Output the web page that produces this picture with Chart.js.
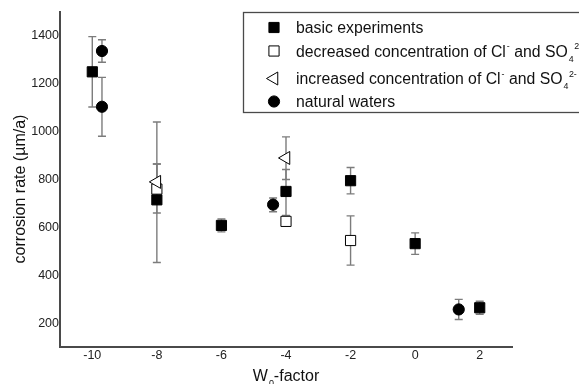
<!DOCTYPE html>
<html><head><meta charset="utf-8">
<script src="https://cdn.jsdelivr.net/npm/chart.js@4.4.1/dist/chart.umd.min.js"></script>
<style>html,body{margin:0;padding:0;background:#fff}#wrap{width:579px;height:384px;position:relative}</style>
</head><body><div id="wrap"><canvas id="c" width="579" height="384"></canvas></div>
<script>
// ---- data ----
const xTicks = [-10, -8, -6, -4, -2, 0, 2];
const yTicks = [200, 400, 600, 800, 1000, 1200, 1400];

const basicX = [-10, -8, -6, -4, -2, 0, 2];
const basicY = [1250, 715, 608, 750, 795, 532, 264];
const basicErrUp = [147, 150, 27, 92, 55, 45, 27];
const basicErrDown = [147, 262, 27, 100, 55, 45, 27];

const decreasedX = [-8, -4, -2];
const decreasedY = [760, 625, 545];
const decreasedErrUp = [105, 10, 103];
const decreasedErrDown = [100, 10, 103];

const increasedX = [-8, -4];
const increasedY = [790, 890];
const increasedErrUp = [250, 88];
const increasedErrDown = [20, 90];

const naturalX = [-9.7, -9.7, -4.4, 1.35];
const naturalY = [1337, 1104, 695, 257];
const naturalErrUp = [47, 123, 28, 42];
const naturalErrDown = [47, 123, 30, 42];

// legend labels as text segments (n = normal, sup = superscript, sub = subscript)
const labelBasic = [["n", "basic experiments"]];
const labelDecreased = [["n", "decreased concentration of Cl"], ["sup", "-"], ["n", " and SO"], ["sub", "4"], ["sup", "2-"]];
const labelIncreased = [["n", "increased concentration of Cl"], ["sup", "-"], ["n", " and SO"], ["sub", "4"], ["sup", "2-"]];
const labelNatural = [["n", "natural waters"]];

const xTitle = [["n", "W"], ["sub", "0"], ["n", "-factor"]];
const yTitle = "corrosion rate (\u00b5m/a)";

const FONT = "'Liberation Sans', Arial, sans-serif";

function pts(xs, ys) { return xs.map((v, i) => ({ x: v, y: ys[i] })); }

const datasets = [
  { label: "basic experiments", data: pts(basicX, basicY), errUp: basicErrUp, errDown: basicErrDown, seg: labelBasic,
    pointStyle: "rect", pointRadius: 7.2, backgroundColor: "#000", borderColor: "#000", borderWidth: 1, rotation: 0, order: 3 },
  { label: "decreased", data: pts(decreasedX, decreasedY), errUp: decreasedErrUp, errDown: decreasedErrDown, seg: labelDecreased,
    pointStyle: "rect", pointRadius: 7.2, backgroundColor: "#fff", borderColor: "#000", borderWidth: 1, rotation: 0, order: 2 },
  { label: "increased", data: pts(increasedX, increasedY), errUp: increasedErrUp, errDown: increasedErrDown, seg: labelIncreased,
    pointStyle: "triangle", pointRadius: 7.5, backgroundColor: "#fff", borderColor: "#000", borderWidth: 1, rotation: -90, order: 1 },
  { label: "natural waters", data: pts(naturalX, naturalY), errUp: naturalErrUp, errDown: naturalErrDown, seg: labelNatural,
    pointStyle: "circle", pointRadius: 5.6, backgroundColor: "#000", borderColor: "#000", borderWidth: 1, rotation: 0, order: 0 }
];
datasets.forEach(d => { d.pointRotation = d.rotation; d.pointBackgroundColor = d.backgroundColor; d.pointBorderColor = d.borderColor; d.pointBorderWidth = d.borderWidth; d.pointHoverRadius = d.pointRadius; d.showLine = false; });

function drawSegments(ctx, segs, x, baseline, size, color) {
  let cx = x;
  let lastSubStart = null, lastSubW = 0;
  ctx.fillStyle = color;
  ctx.textBaseline = "alphabetic";
  ctx.textAlign = "left";
  for (const [type, t] of segs) {
    if (type === "n") {
      ctx.font = size + "px " + FONT;
      ctx.fillText(t, cx, baseline);
      cx += ctx.measureText(t).width;
      lastSubStart = null;
    } else if (type === "sub") {
      const s = size * 0.56;
      ctx.font = s + "px " + FONT;
      ctx.fillText(t, cx + 1, baseline + size * 0.32);
      lastSubStart = cx + 1; lastSubW = ctx.measureText(t).width;
      cx += lastSubW + 1;
    } else if (type === "sup") {
      const s = size * 0.56;
      ctx.font = s + "px " + FONT;
      let sx = cx + 1;
      if (lastSubStart !== null) sx = lastSubStart + lastSubW + 0.5;
      ctx.fillText(t, sx, baseline - size * 0.45);
      cx = Math.max(cx, sx + ctx.measureText(t).width);
      lastSubStart = null;
    }
  }
  return cx;
}

const errorBars = {
  id: "errorBars",
  beforeDatasetsDraw(chart) {
    const { ctx, scales: { x, y } } = chart;
    ctx.save();
    ctx.strokeStyle = "#7c7c7c";
    ctx.lineWidth = 1.4;
    chart.data.datasets.forEach(ds => {
      ds.data.forEach((p, i) => {
        const px = x.getPixelForValue(p.x);
        const top = y.getPixelForValue(p.y + ds.errUp[i]);
        const bot = y.getPixelForValue(p.y - ds.errDown[i]);
        ctx.beginPath();
        ctx.moveTo(px, top); ctx.lineTo(px, bot);
        ctx.moveTo(px - 4, top); ctx.lineTo(px + 4, top);
        ctx.moveTo(px - 4, bot); ctx.lineTo(px + 4, bot);
        ctx.stroke();
      });
    });
    ctx.restore();
  }
};

const decor = {
  id: "decor",
  afterDraw(chart) {
    const { ctx, chartArea } = chart;
    ctx.save();
    // y title
    ctx.save();
    ctx.translate(21, 189);
    ctx.rotate(-Math.PI / 2);
    ctx.font = "16px " + FONT;
    ctx.fillStyle = "#111";
    ctx.textAlign = "center";
    ctx.textBaseline = "middle";
    ctx.fillText(yTitle, 0, 0);
    ctx.restore();
    // x title
    const tmp = document.createElement("canvas").getContext("2d");
    let w = 0;
    for (const [type, t] of xTitle) {
      tmp.font = (type === "n" ? 16 : 16 * 0.56) + "px " + FONT;
      w += tmp.measureText(t).width + (type === "n" ? 0 : 1);
    }
    const cxm = (chartArea.left + chartArea.right) / 2;
    drawSegments(ctx, xTitle, cxm - w / 2, 381, 16, "#111");

    // legend box
    ctx.strokeStyle = "#4a4a4a";
    ctx.lineWidth = 1.3;
    ctx.strokeRect(243.5, 12.5, 345, 100);
    const rowsY = [27.5, 51, 78.5, 101.5];
    chart.data.datasets.forEach((ds, i) => {
      ctx.fillStyle = ds.backgroundColor;
      ctx.strokeStyle = ds.borderColor;
      ctx.lineWidth = 1;
      Chart.helpers.drawPoint(ctx, { pointStyle: ds.pointStyle, radius: ds.pointRadius, rotation: ds.rotation, borderWidth: 1 }, 274, rowsY[i]);
      drawSegments(ctx, ds.seg, 296, rowsY[i] + 5.5, 15.8, "#111");
    });
    ctx.restore();
  }
};

new Chart(document.getElementById("c"), {
  type: "scatter",
  data: { datasets },
  options: {
    responsive: false,
    animation: false,
    devicePixelRatio: 1,
    layout: { padding: { top: 12, right: 67, left: 0, bottom: 0 } },
    plugins: { legend: { display: false }, tooltip: { enabled: false } },
    scales: {
      x: {
        type: "linear", min: -11, max: 3,
        afterBuildTicks: s => { s.ticks = xTicks.map(v => ({ value: v })); },
        afterFit: s => { s.height = 37; },
        grid: { drawOnChartArea: false, drawTicks: false },
        border: { display: true, color: "#4a4a4a", width: 2 },
        ticks: { padding: 1, color: "#222", font: { family: FONT, size: 12.5 }, callback: v => String(v), maxRotation: 0 }
      },
      y: {
        type: "linear", min: 100, max: 1500,
        afterBuildTicks: s => { s.ticks = yTicks.map(v => ({ value: v })); },
        afterFit: s => { s.width = 60; },
        grid: { drawOnChartArea: false, drawTicks: false },
        border: { display: true, color: "#4a4a4a", width: 2 },
        ticks: { padding: 1, color: "#222", font: { family: FONT, size: 12.5 }, callback: v => String(v) }
      }
    }
  },
  plugins: [errorBars, decor]
});
</script>
</body></html>
